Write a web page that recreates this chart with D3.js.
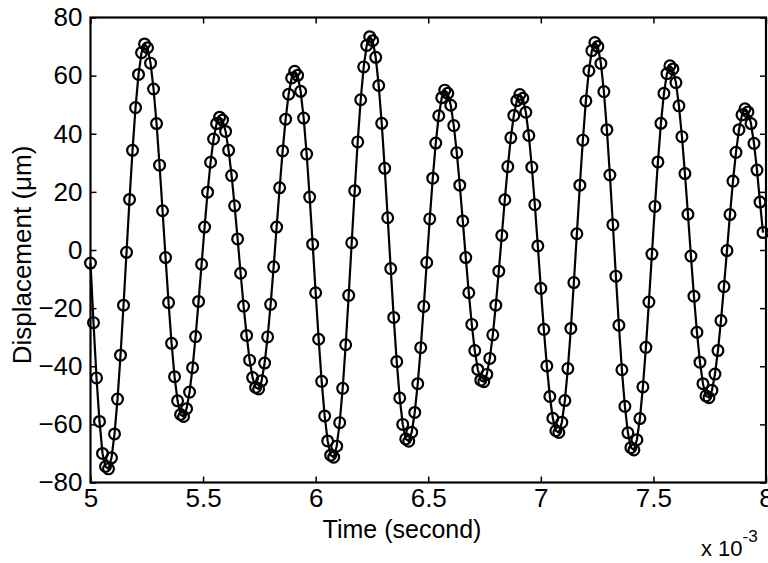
<!DOCTYPE html>
<html>
<head>
<meta charset="utf-8">
<script src="https://cdn.jsdelivr.net/npm/d3@7"></script>
<style>
  html, body { margin: 0; padding: 0; background: #fff; }
  svg { display: block; }
  text { font-family: "Liberation Sans", Arial, Helvetica, sans-serif; fill: #000; }
</style>
</head>
<body>
<svg id="chart" width="768" height="563"></svg>
<script>
// Sampled displacement record: uniform sampling starting at 5 ms
const startTimeMs = 5.0;          // first sample, ms
const sampleRateHz = 75000;       // samples per second

// Displacement in micrometres, one value per sample
const displacement = [
  -4.5, -25, -44, -59, -70, -74.5,
  -75.3, -71.5, -63.3, -51.3, -36.2, -19.0, -0.8, 17.4, 34.3, 49.0, 60.4, 67.9, 70.9,
  69.6, 64.3, 55.4, 43.5, 29.2, 13.5, -2.6, -18.1, -32.1, -43.6, -51.9, -56.6,
  -57.3, -54.6, -48.9, -40.5, -29.8, -17.7, -4.9, 7.9, 19.9, 30.2, 38.2, 43.5, 45.7,
  44.7, 40.8, 34.3, 25.6, 15.2, 3.8, -8.0, -19.3, -29.4, -37.9, -43.9, -47.3,
  -47.8, -45.0, -38.9, -29.9, -18.7, -5.8, 7.9, 21.4, 34.1, 45.0, 53.6, 59.2, 61.5,
  60.1, 54.6, 45.4, 33.0, 18.2, 2.0, -14.7, -30.7, -45.2, -57.1, -65.7, -70.6,
  -71.3, -67.5, -59.4, -47.6, -32.6, -15.6, 2.5, 20.4, 37.2, 51.7, 63.0, 70.4, 73.4,
  72.0, 66.3, 56.6, 43.6, 28.1, 11.1, -6.4, -23.2, -38.4, -50.9, -60.0, -65.0,
  -65.8, -62.7, -55.9, -46.0, -33.6, -19.4, -4.3, 10.7, 24.7, 36.8, 46.2, 52.4, 55.0,
  53.9, 49.8, 42.8, 33.5, 22.3, 10.0, -2.6, -14.7, -25.6, -34.6, -41.1, -44.8,
  -45.3, -42.8, -37.3, -29.2, -19.0, -7.3, 5.0, 17.3, 28.7, 38.6, 46.3, 51.4, 53.5,
  52.2, 47.4, 39.4, 28.5, 15.6, 1.4, -13.2, -27.3, -39.9, -50.4, -57.9, -62.2,
  -62.8, -59.3, -51.8, -40.8, -27.0, -11.2, 5.6, 22.3, 37.8, 51.3, 61.7, 68.6, 71.4,
  70.0, 64.2, 54.5, 41.4, 25.8, 8.7, -9.0, -25.9, -41.2, -53.8, -62.9, -68.0,
  -68.8, -65.3, -58.0, -47.1, -33.5, -17.9, -1.4, 15.0, 30.3, 43.6, 53.9, 60.7, 63.4,
  62.3, 57.6, 49.6, 39.0, 26.3, 12.3, -2.1, -15.9, -28.3, -38.6, -46.0, -50.2,
  -50.8, -48.3, -42.7, -34.6, -24.3, -12.6, -0.2, 12.2, 23.7, 33.6, 41.4, 46.5, 48.6,
  47.5, 43.5, 36.7, 27.5, 16.5, 6.0
];

// Axis ticks (time axis in units of 10^-3 s)
const xTicks = [5, 5.5, 6, 6.5, 7, 7.5, 8];
const yTicks = [-80, -60, -40, -20, 0, 20, 40, 60, 80];
const xDomain = [5, 8];
const yDomain = [-80, 80];

const xLabel = "Time (second)";
const yLabel = "Displacement (\u03BCm)";

// Time stamps (ms) of each sample
const samples = displacement.map((v, i) => ({
  t: startTimeMs + i * 1000 / sampleRateHz,
  v: v
}));

const svg = d3.select("#chart");
const plot = { left: 90.5, right: 766, top: 17.5, bottom: 482.5 };

const x = d3.scaleLinear().domain(xDomain).range([plot.left, plot.right]);
const y = d3.scaleLinear().domain(yDomain).range([plot.bottom, plot.top]);

const tickLen = 6;
const fontSize = 26;

// Data trace
const line = d3.line().x(d => x(d.t)).y(d => y(d.v));
svg.append("path")
  .datum(samples)
  .attr("d", line)
  .attr("fill", "none")
  .attr("stroke", "#000")
  .attr("stroke-width", 2.2)
  .attr("stroke-linejoin", "round");

// Open circle markers on every sample
svg.append("g")
  .selectAll("circle")
  .data(samples)
  .join("circle")
  .attr("cx", d => x(d.t))
  .attr("cy", d => y(d.v))
  .attr("r", 5.4)
  .attr("fill", "none")
  .attr("stroke", "#000")
  .attr("stroke-width", 2.2);

// Axes: inward ticks on all four sides, labels on bottom and left
function styleAxis(g, showText) {
  g.select(".domain").remove();
  g.selectAll(".tick line").attr("stroke", "#000").attr("stroke-width", 1.5);
  g.selectAll(".tick text")
    .attr("font-size", fontSize)
    .attr("fill", "#000")
    .style("display", showText ? null : "none");
}

svg.append("g")
  .attr("transform", `translate(0,${plot.bottom})`)
  .call(d3.axisBottom(x).tickValues(xTicks).tickFormat(d3.format("~g"))
    .tickSizeInner(-tickLen).tickSizeOuter(0).tickPadding(6))
  .call(g => styleAxis(g, true));

svg.append("g")
  .attr("transform", `translate(0,${plot.top})`)
  .call(d3.axisTop(x).tickValues(xTicks).tickSizeInner(-tickLen).tickSizeOuter(0))
  .call(g => styleAxis(g, false));

svg.append("g")
  .attr("transform", `translate(${plot.left},0)`)
  .call(d3.axisLeft(y).tickValues(yTicks).tickFormat(d3.format("d"))
    .tickSizeInner(-tickLen).tickSizeOuter(0).tickPadding(8))
  .call(g => styleAxis(g, true));

svg.append("g")
  .attr("transform", `translate(${plot.right},0)`)
  .call(d3.axisRight(y).tickValues(yTicks).tickSizeInner(-tickLen).tickSizeOuter(0))
  .call(g => styleAxis(g, false));

// Axes box
svg.append("rect")
  .attr("x", plot.left)
  .attr("y", plot.top)
  .attr("width", plot.right - plot.left)
  .attr("height", plot.bottom - plot.top)
  .attr("fill", "none")
  .attr("stroke", "#000")
  .attr("stroke-width", 2.2);

// Axis titles
svg.append("text")
  .attr("x", 402)
  .attr("y", 538)
  .attr("text-anchor", "middle")
  .attr("font-size", 25)
  .text(xLabel);

svg.append("text")
  .attr("transform", `translate(31,255) rotate(-90)`)
  .attr("text-anchor", "middle")
  .attr("font-size", 26)
  .text(yLabel);

// Exponent note for the time axis
const expo = svg.append("text")
  .attr("x", 701)
  .attr("y", 556)
  .attr("font-size", 22);
expo.append("tspan").text("x 10");
expo.append("tspan").attr("dy", -14).attr("font-size", 17).text("-3");
</script>
</body>
</html>
